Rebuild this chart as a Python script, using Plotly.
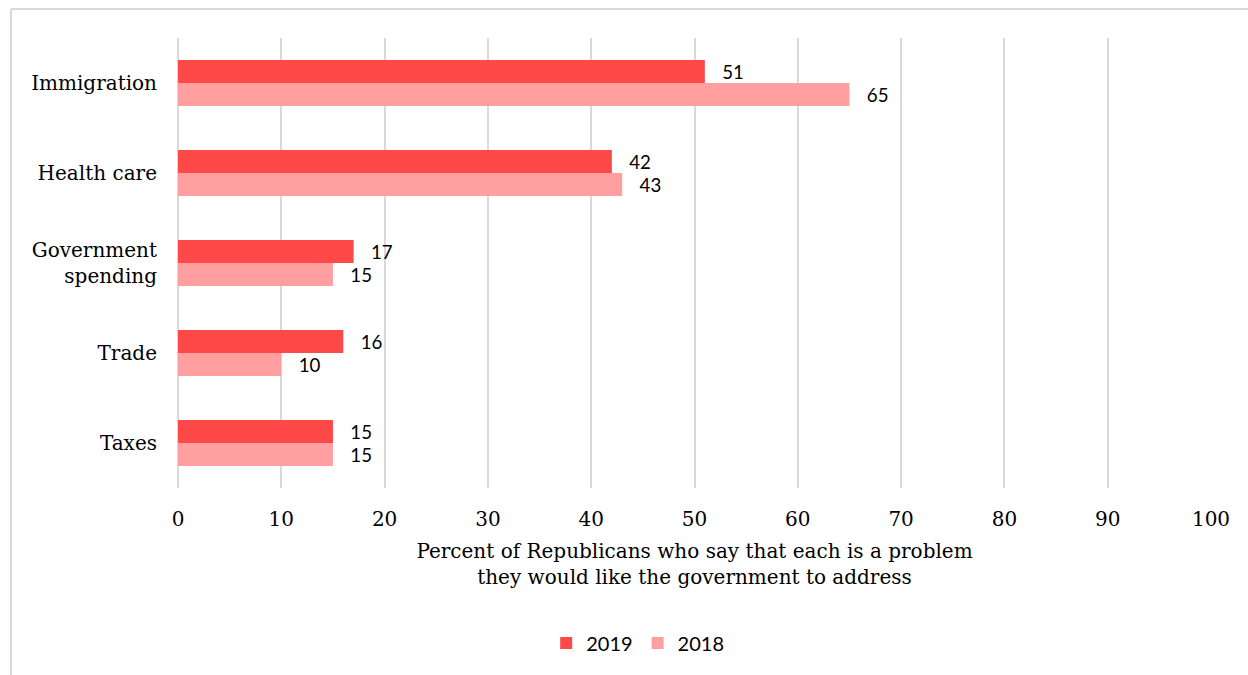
import plotly.graph_objects as go

# Survey categories, top to bottom
categories = ["Immigration", "Health care", "Government<br>spending", "Trade", "Taxes"]
values_2019 = [51, 42, 17, 16, 15]
values_2018 = [65, 43, 15, 10, 15]
x_ticks = [0, 10, 20, 30, 40, 50, 60, 70, 80, 90, 100]

SERIF = "DejaVu Serif"
SANS = "Lato"
COLOR_2019 = "#FF4848"
COLOR_2018 = "#FF9F9F"
GRID = "#D9D9D9"

fig = go.Figure()
fig.add_trace(go.Bar(
    name="2019", y=categories, x=values_2019, orientation="h",
    marker=dict(color=COLOR_2019, line=dict(width=0)),
    text=values_2019, texttemplate="   %{x}", textposition="outside",
    textfont=dict(family=SANS, size=22, color="#000000"), cliponaxis=False,
))
fig.add_trace(go.Bar(
    name="2018", y=categories, x=values_2018, orientation="h",
    marker=dict(color=COLOR_2018, line=dict(width=0)),
    text=values_2018, texttemplate="   %{x}", textposition="outside",
    textfont=dict(family=SANS, size=22, color="#000000"), cliponaxis=False,
))

W, H = 1248, 675
ml, mr, mt, mb = 178, 37, 38, 187
pw, ph = W - ml - mr, H - mt - mb

# outer frame lines (left and top) in paper coordinates
fx = (11 - ml) / pw
fy = 1 + (38 - 9) / ph
fig.add_shape(type="line", xref="paper", yref="paper", x0=fx, x1=fx, y0=-2, y1=fy,
              line=dict(color=GRID, width=2))
fig.add_shape(type="line", xref="paper", yref="paper", x0=fx, x1=2, y0=fy, y1=fy,
              line=dict(color=GRID, width=2))

fig.update_layout(
    width=W, height=H,
    margin=dict(l=ml, r=mr, t=mt, b=mb, autoexpand=False),
    paper_bgcolor="white", plot_bgcolor="white",
    barmode="group", bargap=0.49, bargroupgap=0,
    font=dict(family=SERIF, size=20, color="#000000"),
    showlegend=True,
    legend=dict(orientation="h", x=0.445, xanchor="center",
                yref="container", y=1 - 643 / H, yanchor="middle",
                font=dict(family=SANS, size=20, color="#000000"),
                traceorder="normal", itemwidth=30, tracegroupgap=0),
    xaxis=dict(
        range=[0, 100], tickvals=x_ticks, showgrid=True, gridcolor=GRID, gridwidth=2,
        zeroline=True, zerolinecolor=GRID, zerolinewidth=2, showline=False,
        ticks="", ticklabelstandoff=17,
        tickfont=dict(family=SERIF, size=20),
        title=dict(text="Percent of Republicans who say that each is a problem<br>they would like the government to address",
                   font=dict(family=SERIF, size=20), standoff=13),
    ),
    yaxis=dict(
        autorange="reversed", showgrid=False, showline=False, ticks="",
        ticklabelstandoff=20, tickfont=dict(family=SERIF, size=20),
    ),
)

fig.write_html("out.html")
